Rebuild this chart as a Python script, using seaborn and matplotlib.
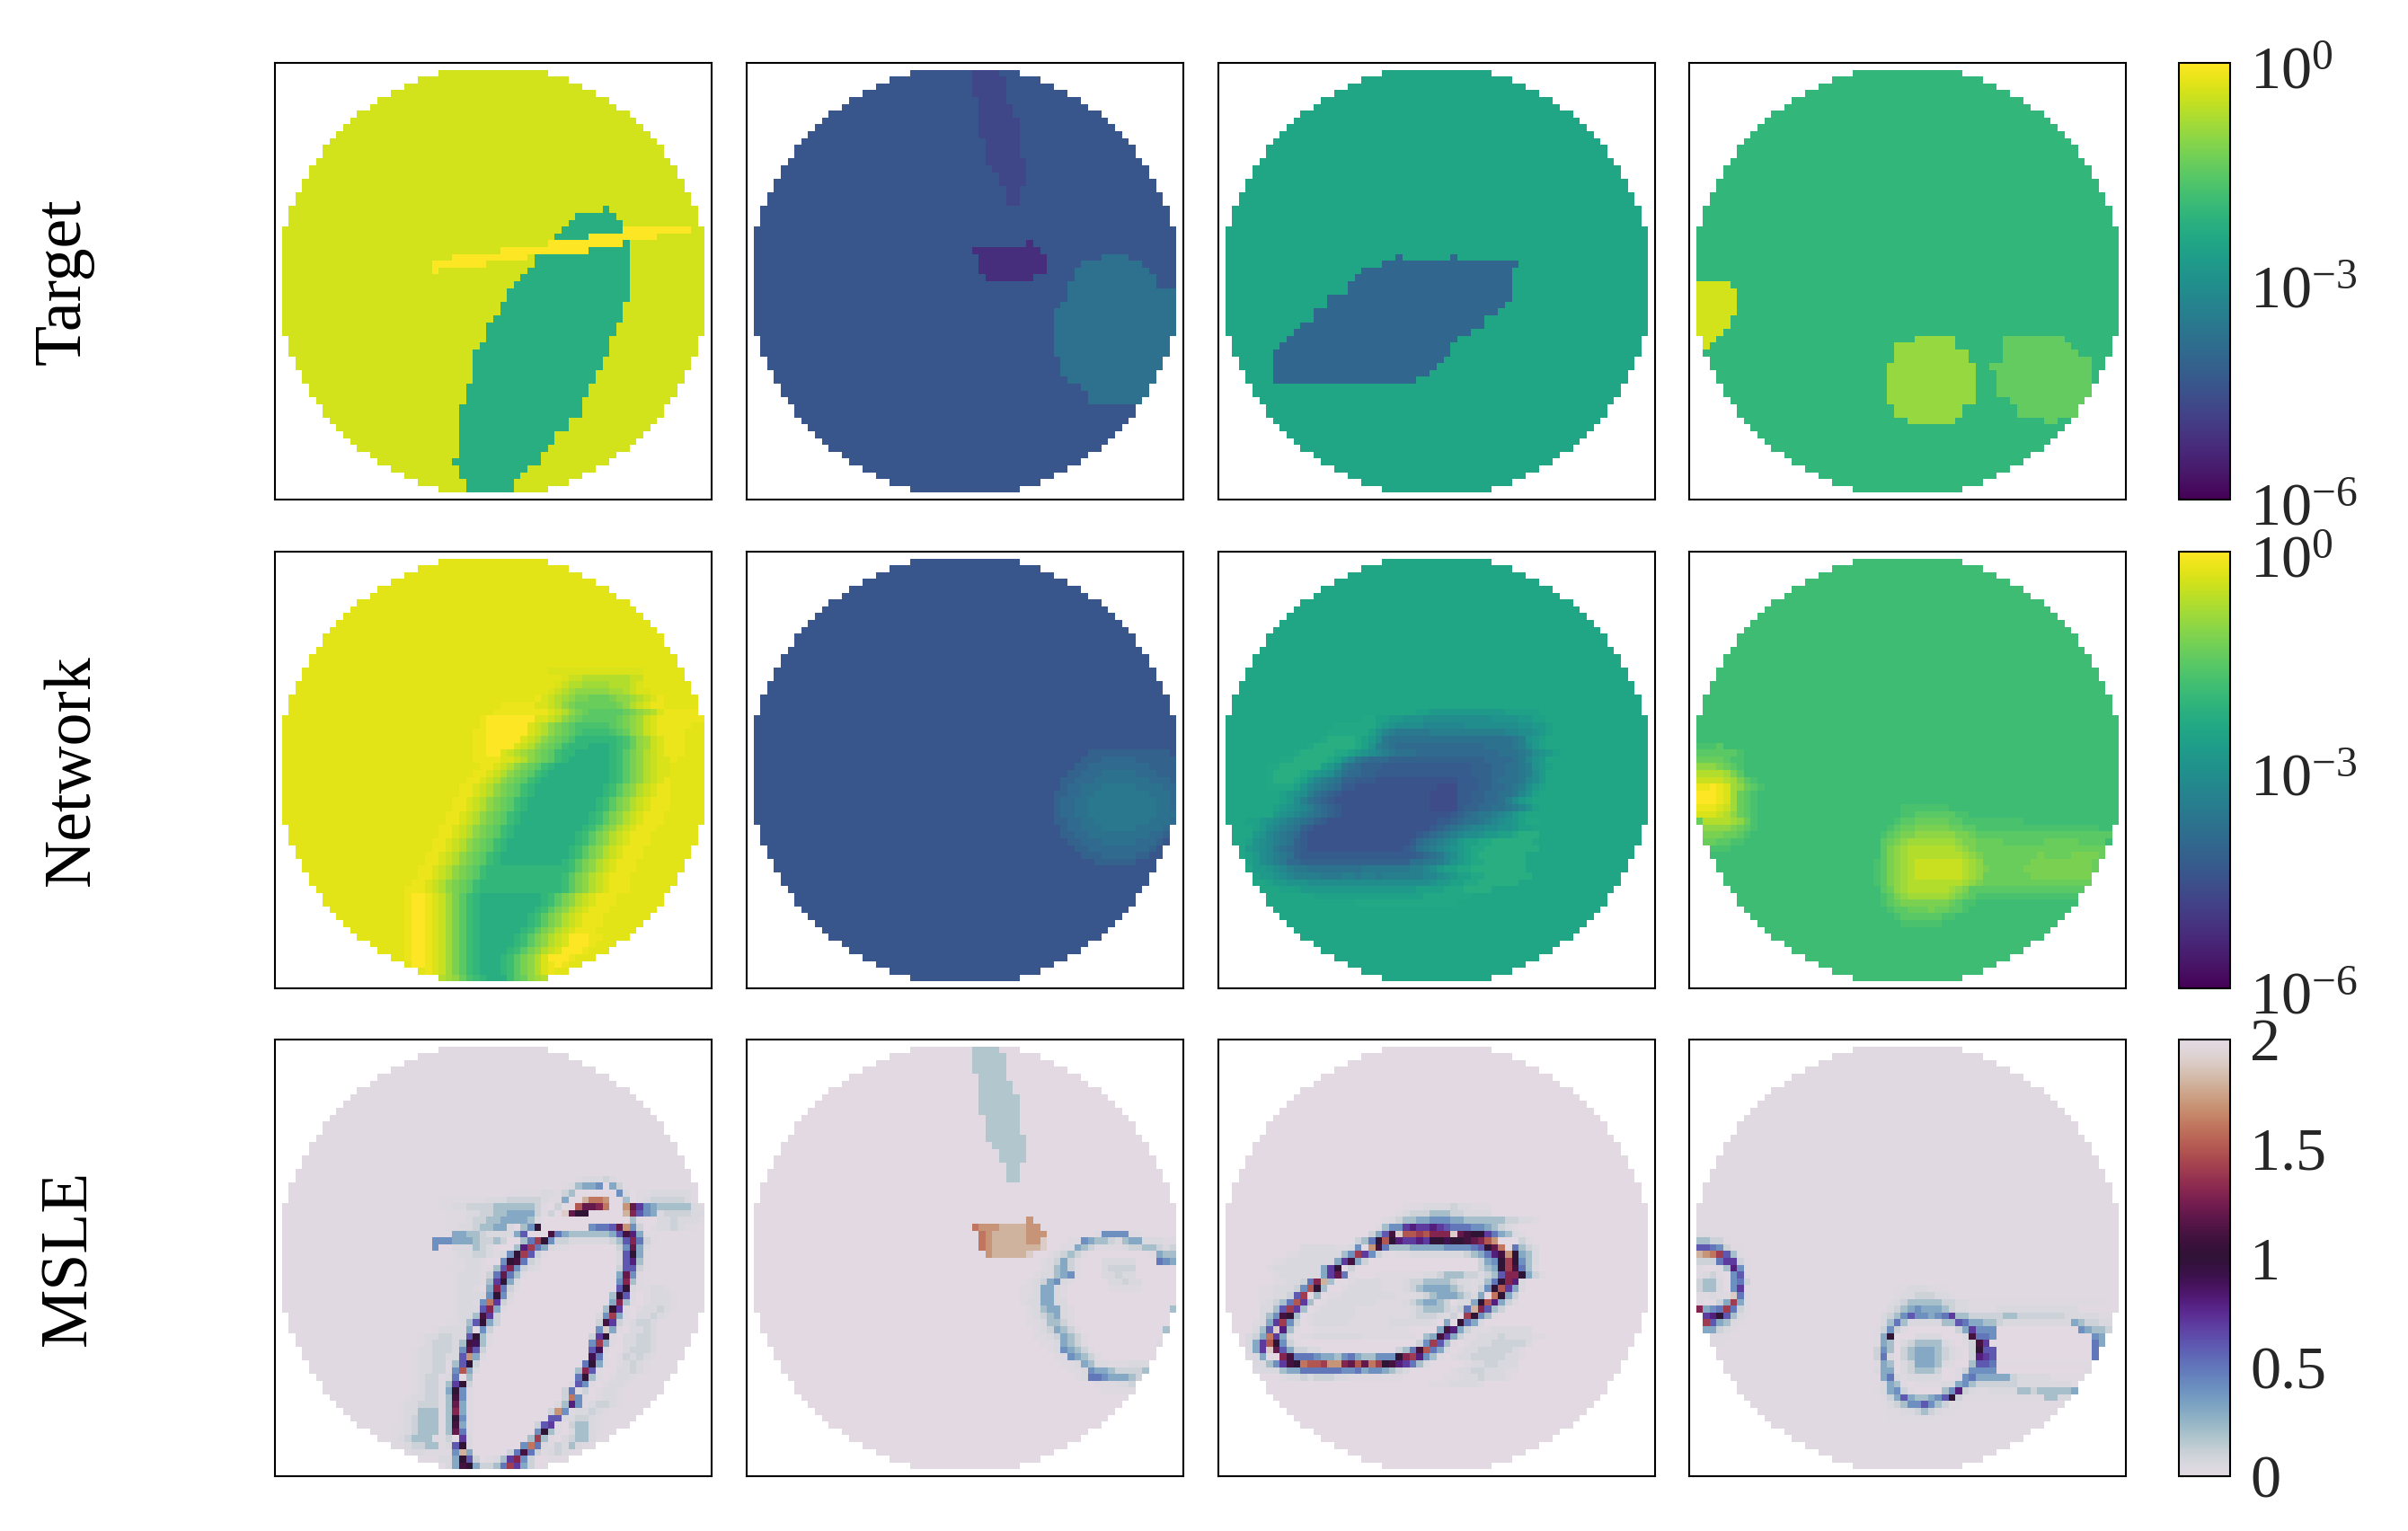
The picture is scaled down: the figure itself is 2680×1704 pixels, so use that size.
import numpy as np
import matplotlib
matplotlib.use("Agg")
import matplotlib.pyplot as plt
from matplotlib.colors import LogNorm
from matplotlib.transforms import ScaledTranslation
import seaborn as sns

ROW_LABELS = ["Target", "Network", "MSLE"]
LOG_TICKS = [1e-6, 1e-3, 1.0]
LOG_TICK_LABELS = [r"$\mathdefault{10^{-6}}$", r"$\mathdefault{10^{-3}}$", r"$\mathdefault{10^{0}}$"]
MSLE_TICKS = [0, 0.5, 1, 1.5, 2]
MSLE_TICK_LABELS = ["0", "0.5", "1", "1.5", "2"]

# first pixel of the disc in rows 1..62 of the 64x64 grid
DISC_START = [24, 21, 19, 17, 15, 14, 12, 11, 10, 9, 8, 7, 7, 6, 5, 5, 4, 4, 3, 3, 2, 2, 2,
              1, 1, 1, 1, 1, 1, 1, 1, 1, 1, 1, 1, 1, 1, 1, 1,
              2, 2, 2, 3, 3, 4, 4, 5, 5, 6, 7, 7, 8, 9, 10, 11, 12, 14, 15, 17, 19, 21, 24]

# Target values, as log10. spans are (row, first col, last col)
T_A_BASE, T_A_GREEN_V, T_A_YELLOW_V = -0.42, -2.23, 0.0
T_A_GREEN = [(21, 48, 48), (22, 44, 49), (23, 43, 50), (24, 42, 50), (25, 41, 45), (26, 51, 51), (27, 46, 51),
             (28, 38, 51), (29, 38, 51), (30, 37, 51), (31, 36, 51), (32, 35, 51), (33, 34, 51), (34, 34, 51),
             (35, 33, 50), (36, 33, 50), (37, 32, 50), (38, 31, 49), (39, 31, 49), (40, 31, 48), (41, 30, 48),
             (42, 29, 48), (43, 29, 47), (44, 29, 47), (45, 29, 46), (46, 29, 46), (47, 28, 45), (48, 28, 45),
             (49, 28, 44), (50, 27, 44), (51, 27, 44), (52, 27, 42), (53, 27, 42), (54, 27, 40), (55, 27, 40),
             (56, 27, 39), (57, 27, 38), (58, 26, 38), (59, 27, 36), (60, 27, 35), (61, 28, 34), (62, 28, 34)]
T_A_YELLOW = [(24, 51, 60), (25, 46, 55), (26, 40, 50), (27, 33, 45), (28, 26, 36), (29, 23, 30), (30, 23, 23)]

T_B_BASE, T_B_STREAK_V, T_B_BLOB_V, T_B_CIRCLE_V = -4.4, -4.72, -5.22, -3.78
T_B_STREAK = [(1, 33, 36), (2, 33, 37), (3, 33, 37), (4, 33, 37), (5, 34, 37), (6, 34, 38), (7, 34, 38),
              (8, 34, 39), (9, 34, 39), (10, 34, 39), (11, 35, 39), (12, 35, 39), (13, 35, 39), (14, 35, 40),
              (15, 36, 40), (16, 37, 40), (17, 37, 40), (18, 38, 39), (19, 38, 39), (20, 38, 39)]
T_B_BLOB = [(26, 41, 41), (27, 33, 42), (28, 34, 43), (29, 34, 43), (30, 34, 43), (31, 35, 41)]
T_B_CIRCLE = [(28, 52, 55), (29, 49, 57), (30, 48, 58), (31, 48, 59), (32, 47, 59), (33, 47, 62), (34, 47, 62),
              (35, 46, 62), (36, 45, 62), (37, 45, 62), (38, 45, 62), (39, 45, 62), (40, 45, 61), (41, 45, 61),
              (42, 45, 61), (43, 46, 60), (44, 46, 60), (45, 46, 59), (46, 47, 59), (47, 49, 58), (48, 50, 58),
              (49, 50, 57)]

T_C_BASE, T_C_DARK_V = -2.46, -4.02
T_C_DARK = [(28, 26, 26), (28, 34, 34), (29, 24, 43), (30, 21, 42), (31, 20, 42), (32, 19, 42), (33, 19, 42),
            (34, 16, 42), (35, 16, 41), (36, 14, 40), (37, 14, 38), (38, 12, 38), (39, 11, 36), (40, 10, 34),
            (41, 9, 33), (42, 8, 33), (43, 8, 32), (44, 8, 31), (45, 8, 30), (46, 8, 28)]

T_D_BASE, T_D_YELLOW_V, T_D_LIME_V, T_D_LIGHT_V = -2.04, -0.42, -0.96, -1.44
T_D_YELLOW = [(32, 1, 5), (33, 1, 6), (34, 1, 6), (35, 1, 6), (36, 1, 6), (37, 1, 5), (38, 1, 5), (39, 1, 4),
              (40, 2, 3), (41, 2, 2)]
T_D_LIME = [(40, 33, 38), (41, 30, 38), (42, 30, 40), (43, 30, 40), (44, 29, 41), (45, 29, 41), (46, 29, 41),
            (47, 29, 41), (48, 29, 41), (49, 29, 41), (50, 30, 39), (51, 30, 39), (52, 32, 38)]
T_D_LIGHT = [(40, 46, 54), (41, 46, 55), (42, 46, 56), (43, 46, 58), (44, 44, 58), (45, 45, 58), (46, 45, 58),
             (47, 45, 58), (48, 45, 58), (49, 47, 57), (50, 48, 56), (51, 48, 56), (52, 52, 53)]

# Network values: (row, first col, levels). viridis position of a level is index/35
N_KEYS = "0123456789abcdefghijklmnopqrstuvwxyz"
N_A_BASE, N_B_BASE, N_C_BASE, N_D_BASE = -0.27, -4.4, -2.46, -1.86
N_A = [
    (17, 40, "xxxxxxxxxxxxxx"), (18, 42, "xwwvvvvvvvww"), (19, 41, "xwvvuuuuvvvwx"), (20, 40, "xwvutttttuuvwxx"),
    (21, 38, "yxwvutssrrrsttuvwxy"), (22, 33, "yyyyyxxwvtsrrrrrrstvwxyy"),
    (23, 32, "yyyyyyyyxwvtsrqqqqqrstuvxyyyyyy"), (24, 30, "yzzzzzzzxxwvtsrqqqqqrstuwxyyyyyyy"),
    (25, 30, "yzzzzzzxwvtsrqpppppqrstuwxyyyyy"), (26, 29, "yyzzzzzzxwvtsrqpoooopqrtuwxyyyy"),
    (27, 29, "yyzzzzzxwvtsrqpnnnnnnoprtuwxyyy"), (28, 29, "yyzzzzxwvtsrqonnnmmmnoprtuwxyyy"),
    (29, 29, "yyzzxwvutsrqonnmmmmmnoqstvwxyyy"), (30, 29, "yyyyxxwvtsrqonmmmmmmnoqstvwxxy"),
    (31, 30, "yyxwvtsrqonmmmmmmmmnoqstvwxx"), (32, 29, "yyxwvtsrqonmmmmmmmmmnoqstvwxx"),
    (33, 28, "yyxwvtsrqonmmmmmmmmmmnoqstvwxy"), (34, 27, "yyxwvtsrqonmmmmmmmmmmnoqstvwxyy"),
    (35, 27, "yyxwvtsrqonmmmmmmmmmmnoqstvwxyy"), (36, 26, "yyxwvtsrqonmmmmmmmmmmnoqstvwxyyy"),
    (37, 26, "yyxwvtsrqonmmmmmmmmmmnoqstvwxyyy"), (38, 25, "yyxwvtsrqonmmmmmmmmmmnoqstvwxyyy"),
    (39, 25, "yyxwvtsrqonmmmmmmmmmmnoqstvwxyyy"), (40, 24, "yyxwvtsrqonmmmmmmmmmmnoqstvwxyyy"),
    (41, 24, "yyxwvtsrqonmmmmmmmmmnoqstvwxyyy"), (42, 23, "yyxwvtsrqonmmmmmmmmmmnoqstvwxyyy"),
    (43, 23, "yyxwvtsrqonmmmmmmmmmnoqstvwxyyy"), (44, 22, "yyxwvtsrqonmmmmmmmmmmnoqstvwxyyy"),
    (45, 22, "yyxwvtsrqonmmmmmmmmmnoqstvwxyyy"), (46, 21, "yyxwvtsrqonnnnnnnnnnnnoqstvwxyyy"),
    (47, 21, "yyxwvtsrqonnnnnnnnnnnoqstvwxyyy"), (48, 20, "yyxwvtsrqonnnnnnnnnnnnoqstvwxyyy"),
    (49, 19, "yyyxwvtsrqonnnnnnnnnnnnoqstvwxyyy"),
    (50, 19, "yzzyxwusqon" + "mmmmmmmmm" + "noqstvwxyyy"), (51, 19, "yzzyxwusqon" + "mmmmmmmmm" + "noqstvwxyyy"),
    (52, 19, "yzzyxwusqon" + "mmmmmmmm" + "noqstvwxyyy"), (53, 19, "yzzyxwusqon" + "mmmmmmm" + "noqstvwxyyy"),
    (54, 19, "yzzyxwusqon" + "mmmmmmm" + "noqstvwxyyy"), (55, 19, "yzzyxwusqon" + "mmmmmm" + "noqstvwxyyy"),
    (56, 19, "yzzyxwusqon" + "mmmmm" + "noqstvwxzzzyy"), (57, 19, "yzzyxwusqon" + "mmmmm" + "noqstvwxzzzy"),
    (58, 19, "yzzyxwusqon" + "mmmm" + "noqstvwxzzzy"), (59, 19, "yzzyxwusqon" + "mmm" + "noqstvxzzzy"),
    (60, 20, "zzyxwusqon" + "mmm" + "noqstvxyzy"), (61, 22, "yxwusqonmmmnoqstvxy"), (62, 24, "vutrponmmmoqrtuv"),
]
N_B = [
    (29, 50, "bbbbbbbbbbbb"), (30, 49, "bbbcccccbbbbbb"), (31, 48, "bbcccccccccbbbb"), (32, 47, "bbcccdddddcccbbb"),
    (33, 46, "bbcccddddddddcccbb"), (34, 46, "bccdddeeeeeddddccb"), (35, 45, "bbccddeeeeeeeedddccb"),
    (36, 45, "bccddeeeeeeeeeeddccb"), (37, 45, "bccddeeeeeeeeeeddccb"), (38, 45, "bccddeeeeeeeeeedddcb"),
    (39, 45, "bbccddeeeeeeeedddccb"), (40, 46, "bccdddeeeeeddddcc"), (41, 46, "bbccdddddddddccb"),
    (42, 47, "bbcccdddddcccb"), (43, 48, "bbcccccccccb"), (44, 49, "bbbcccccbb"), (45, 51, "bbbbbb"),
]
N_C = [
    (23, 29, "kkjjjjjjjjjjjkkkkk"), (24, 21, "llkkjjiiihhhhhhhhhhiiiijjkk"),
    (25, 17, "llllllkjihhhhgggggghhhhhhhhiijjk"), (26, 16, "llllllkigfeeeeefffffffffffgghhijk"),
    (27, 15, "lmmmmlkjhe" + "dddddddddddddddddd" + "efijk"),
    (28, 13, "lmmmmmmlkifed" + "ccccccccccccc" + "ddddefhjk"),
    (29, 11, "lmmmmmllkjihgfedddccccccccccccdddefhijk"),
    (30, 9, "llmmmmmlkigedccc" + "bbbbbbbbbbbbbb" + "ccccdegij"),
    (31, 7, "llmmmmmmkjhedcbbb" + "aaaaaaaaaaaaa" + "bbbccddefijk"),
    (32, 7, "lmmmmlkjihfdccbb" + "aaaaaaaaaaaaaa" + "bbbccddefhj"),
    (33, 7, "lmmmlkigfedbbaaa" + "999999999999" + "aaabbcdddeghj"),
    (34, 7, "llllkigfedcaa" + "999999999999" + "888aaabbccdefhjk"),
    (35, 9, "kjihfdcba" + "9999999999999" + "8888aabbccddegik"),
    (36, 9, "kjhfdcba" + "99999999999999" + "8888aabbccdfhjk"),
    (37, 8, "kjihgfdcba" + "9999999999999" + "8888abbccddefgik"),
    (38, 8, "jihgfedcba" + "9999999999999999" + "abcdeefghjk"),
    (39, 4, "kkjihgfedcba9999999999999999aabcddefghijkll"),
    (40, 5, "kjhgfedba99999999999999999abcdefgghhiijkk"),
    (41, 5, "jigfedca9999999999999999abcdefghhijjkklmmm"),
    (42, 4, "kihgfedba999999999999999acdefghjkkllmmmmmml"),
    (43, 4, "jihgedcba99999999999999abdefghijkllmmmmmmmm"),
    (44, 4, "kjhgfedbaaaaaaaaaaaaaaaaabcdeghjklmmmmmmm"),
    (45, 4, "kjhgfeccbbbbbbbbbbbbbbbbddeefgijkllmmmmmm"),
    (46, 5, "jjihgfeeddddddddeeeeeeeffghjkkllmmmmmmmm"),
    (47, 5, "kjjihgffffeeeffeffeffffffgghijkkllmmmmmmm"),
    (48, 7, "kjjiiihhhhhhhhhhhhhhhhhhijjkkllmmmmmm"),
    (49, 9, "kkkjjjjjjjjjjjjjjjjjkkkklllmmmm"), (50, 14, "kkkkkkkkkkkkkkkklllllll"), (51, 20, "lllllllllllllll"),
]
N_D = [
    (28, 1, "pppqoo"), (29, 1, "qqqqqqp"), (30, 1, "rrrrqpp"), (31, 1, "tttsrqp"), (32, 1, "vvvvusq"),
    (33, 1, "wwwwvusqp"), (34, 1, "yyzyxutrqp"), (35, 1, "zzzyxurqp"), (36, 1, "zzzyxurqp"), (37, 1, "yyyxwurqp"),
    (38, 1, "xxxwvtrqp"), (39, 1, "rvvvvutrp"), (40, 2, "ttttsrqp"), (41, 2, "sssrrqp"), (42, 2, "rrqqpp"),
    (43, 3, "ppp"),
    (37, 31, "ppppppp"), (38, 31, "ppqqqqqqpp"), (39, 30, "pqqrrrrrqqpp" + "ppppppp"),
    (40, 29, "pqrrsssssrrqqpp" + "pppppppppppppppp"), (41, 28, "pqrssttttttssrqqqqqqqqqqqqqqqqqqqqqpp"),
    (42, 28, "qrstuuuuuuutssrrrrqqqqqqrrrrrqqqq"), (43, 28, "qstuvvvvvvvutsrrrrrrrrrrrrrrrrrrrrqq"),
    (44, 28, "qstuvvvvvvvvutsrrrrrrrrsrrrrssssrrrq"), (45, 27, "pqstuvwwwwwwwvutrrrrrrrsssssssssrrrq"),
    (46, 27, "pqstuvwwwwwwwvutsrrrrrssssssssssrrq"), (47, 27, "pqstuvwwwwwwwvutrrrrrrrsssssssssrrqq"),
    (48, 27, "pqstuvvvvvvvvutsrrrrrrrrrrrrrrrrrrqq"), (49, 28, "qrtuvvvvvvutsqqqqqqqqqqqqqqqqqqqqq"),
    (50, 28, "pqstuuuuuutsrqppppppppppppppppp"), (51, 28, "pqrsssssssrqpp"), (52, 29, "pqqrrrsrrqqp"),
    (53, 30, "pqqqqqqpp"), (54, 31, "pppppp"),
]

# MSLE values: 0..K is 0.0..2.0 in steps of 0.1, y and z are the faint levels
M_KEYS = "0123456789ABCDEFGHIJK"
M_FAINT = {"y": 0.03, "z": 0.05}
M_A_BASE, M_B_BASE, M_C_BASE, M_D_BASE = 0.012, 0.0, 0.0, 0.012
M_B_STREAK_V = 0.17
M_A = [
    (20, 44, "yzzz1z"), (21, 42, "yz2334031"), (22, 34, "yyyyyzzy12000000" + "4z0yyzzzzzz"),
    (23, 24, "yyyyyyyzzz11111zyy" + "300IGGH0" + "0" + "2" + "0yz11111z"),
    (24, 24, "yyzz1111222222" + "1y010" + "0FCCDG00H" + "C74322222zy"),
    (25, 25, "yyyzz11223333" + "1y10JCAA00000" + "ID643z1111zz"),
    (26, 25, "yyyz112233332z" + "0" * 13 + "2y00zz1zzzy"),
    (27, 25, "yyzz12233z0" + "24A0000000" + "455" + "6CH410yzz1zyy"),
    (28, 26, "33221zzzz36000B53222222" + "36B83y"),
    (29, 23, "4443332112100" + "25EA411zzzzzz126D51y"),
    (30, 23, "400zzz21z000" + "28E53zyy0000000" + "14C3z"),
    (31, 26, "yzz11zyz4AE61y" + "0" * 10 + "z6A3y"),
    (32, 26, "yyzzy004AB51z" + "0" * 11 + "z682y"),
    (33, 25, "yyyzzyy26D41zy" + "0" * 11 + "1661y"),
    (34, 26, "yzzzy15C52y" + "0" * 13 + "3C4y"),
    (35, 26, "yzzzy27A3z" + "0" * 14 + "4D2y"),
    (36, 26, "yzzy03D51y" + "0" * 14 + "6Azyyzzy"),
    (37, 26, "yzzzz4A4z" + "0" * 14 + "2A6y0yzzzy"),
    (38, 26, "yzzy4G71y" + "0" * 14 + "3D2y0yzzzy"),
    (39, 26, "yzzz6D3y" + "0" * 14 + "2A7y0yzz1zy"),
    (40, 26, "yzz2B71" + "0" * 14 + "z4E3y0zz1zy"),
    (41, 25, "yyz26A31" + "0" * 14 + "1B71yz11z"),
    (42, 23, "yzzzz3041" + "0" * 15 + "4J3y0zz1z"),
    (43, 21, "yzz11zz6A2y" + "0" * 14 + "17Ay0zz11z"),
    (44, 21, "yz111z2B92y" + "0" * 14 + "4E3y0zz11z"),
    (45, 20, "yzz111z4C61" + "0" * 15 + "69z00z111z"),
    (46, 20, "yzz11zz6H3y" + "0" * 15 + "95y0y1z1zy"),
    (47, 20, "yzz11y26A1" + "0" * 15 + "5A3y0yz1zy"),
    (48, 20, "yzz11y4F3z" + "0" * 14 + "2D6y00zz1zy"),
    (49, 20, "yz11yz502" + "0" * 15 + "5A2y0yzzy"),
    (50, 20, "yz11y27A1" + "0" * 14 + "z64y0yzzy"),
    (51, 20, "yz11y3A4y" + "0" * 13 + "15y10yzzy"),
    (52, 19, "yzz11y2B4y" + "0" * 13 + "1G4y0yzzy"),
    (53, 18, "yzz111y2C3y" + "0" * 12 + "z284yz11zy"),
    (54, 18, "yzz222y2D3y" + "0" * 11 + "1H4yzz1zy"),
    (55, 18, "yz1222y2A4y" + "0" * 11 + "66zz11zy"),
    (56, 17, "yyz1222y2B3y" + "0" * 9 + "167y0122zy"),
    (57, 17, "yyz1222y2C5y" + "0" * 9 + "4A2y0z22zy"),
    (58, 17, "yz1222yy107z" + "0" * 8 + "2E2y0z122z"),
    (59, 17, "yyz1122yz6Az" + "0" * 7 + "4G5zy1z2zy"),
    (60, 19, "yzzyyyy4I3" + "0" * 5 + "15B51yz1zy"),
    (61, 24, "zz3A610yz27D4100y"),
    (62, 24, "0z3BA31125E7310"),
]
M_B = [
    (26, 41, "H"), (27, 33, "GHHHIIIIHH"), (28, 34, "GHIIIIIHHH"), (29, 34, "GHIIIIIHHJ"), (30, 34, "GHIIIIIIIJ"),
    (31, 35, "HIIIIIJ"),
    (28, 51, "y4444yy"), (29, 47, "yy43221z233zzzyy"), (30, 46, "yy321yyyyz11221z1"),
    (31, 44, "yz121y" + "0" * 9 + "y322"), (32, 43, "yz131y000zzzzz000543"), (33, 43, "yz231y000z1111"),
    (34, 42, "yzz234y000zz1zz"), (35, 41, "yz134zy00000zz1zz"), (36, 40, "yyz33zy000000yyyyy"),
    (37, 40, "yyz33zy"), (38, 40, "yzz33zz"), (39, 41, "yz233zy" + "0" * 14 + "2"), (40, 41, "yz123zy"),
    (41, 41, "yyz221y"), (42, 42, "yz1321y" + "0" * 12 + "2"), (43, 42, "yyz1321y"),
    (44, 43, "yyz321y" + "0" * 10 + "y"), (45, 44, "yz4321y"), (46, 45, "yy4321y"), (47, 46, "yyz32zzyyyzzz"),
    (48, 47, "yyz43321111" + "2"), (49, 48, "yz55433321"), (50, 51, "yyyzz1"), (51, 52, "yyyyy"),
]
M_C = [
    (24, 27, "yyyzzzz1zzyyy"), (25, 26, "yz11122211zzzz"), (26, 24, "yz122334443322222211zzy"),
    (27, 23, "y244787787655544321zy"), (28, 22, "136BJFFEFDDDJCBAA7532zy"),
    (29, 20, "125AFA87787AA9AABCDFH0001y"),
    (30, 12, "zzzzzyyz40HB5222333334444" + "56ACG0521z"),
    (31, 10, "yyzzzzzz24E741y0yyzzzzzzzz1235" + "8BHA32z"),
    (32, 8, "yyzzzzzzz37B31" + "0" * 16 + "134AEA42z"),
    (33, 7, "yzzzzzzz37A01000" + "0" * 15 + "123AEB52y"),
    (34, 8, "yzzzzzz37C5y000yyyyyyyzz122211z126DDA31y"),
    (35, 8, "yyzz15DI200yzzzzyyyz1122221zzyz25AD8z"),
    (36, 6, "yyzzz14FA200yzzzzzyyyz12333321zy14AF73z"),
    (37, 6, "yyzz16E020yyzzzzzzzzyyyz1233321z30GA31"),
    (38, 6, "yz125F720yzzzzzzzyyyyz1233210zz3AF831y"),
    (39, 6, "zz26E720yzzzzzyyyyyyyyz12221z15ID621"),
    (40, 6, "z24BA20yzzzzzzyyyyyyyyz111zy10EA42y"),
    (41, 5, "yz37E410yzzzzzyyyyyyzzzzzzy030A53z"),
    (42, 5, "z26J82y00yyyyyyyyyyyyyy00003B831yyyzzzzzz"),
    (43, 4, "z13G73z0yyzzzzzzzyyyyyyyy023B731yyzzz1zzzzyy"),
    (44, 4, "z37FA41y" + "0" * 17 + "14E62y0yzzz11111z"),
    (45, 4, "z37JC6311zz" + "0" * 11 + "125BF53z0yzz11111zy"),
    (46, 4, "yz300DB555433245322444ADE842y0yzz11111zzy"),
    (47, 5, "zz247BAGFFEHHDCFCGEAB8752z00000yzz11zzz"),
    (48, 5, "yzzz233555555445344321z000000yzz11zzzyy"),
    (49, 9, "yzz1z111zzyyyyyyyy000000yyyzz1zzzy"),
    (50, 31, "yyyzzzzy"),
]
M_D = [
    (28, 1, "yy"), (29, 1, "2211y"), (30, 1, "66541yy"), (31, 1, "IHGE62y"), (32, 1, "1115771y"), (33, 1, "y00y284y"),
    (34, 1, "yz1y046y"), (35, 1, "122z0451"), (36, 1, "122z047y"), (37, 1, "yyzyyJ5y"), (38, 1, "y0013E3y"),
    (39, 1, "D345E51y"), (40, 2, "78A62zy"), (41, 2, "E632zy"), (42, 2, "331zy"), (43, 3, "yyy"), (44, 3, "yy"),
    (36, 30, "yyzzzyyy"), (37, 30, "yzz111zzy"), (38, 29, "yz12222211zzyy" + "y" * 18),
    (39, 29, "z123433321zzyyyy" + "z" * 12), (40, 28, "z124644345722" + "11111" + "22" + "1111111" + "zzzzzyy"),
    (41, 28, "z252zzzzz" + "22" + "65" + "3322" + "1" + "z" * 10 + "3211zz"),
    (42, 27, "y141y" + "0" * 7 + "137444" + "0" * 12 + "43221"),
    (43, 27, "y3A000zzzz000zB554" + "0" * 14 + "43"),
    (44, 27, "y320z12222zy0y1B7" + "0" * 15 + "53"),
    (45, 27, "142012333" + "21zy01A66" + "0" * 14 + "5"),
    (46, 27, "15z012333" + "21zy01876" + "0" * 14 + "5"),
    (47, 27, "y320z1333" + "2zy002665"),
    (48, 27, "z330z1222" + "100y14444" + "0" * 13 + "y"),
    (49, 28, "35zyzzzzz00y4533333" + "1zzzzz"),
    (50, 28, "z32y0yyyyzz34211111" + "1zzzzzzzz"),
    (51, 27, "yz341y000024" + "81zyyzzzz" + "22122222" + "3"),
    (52, 28, "y13632234" + "6A1" + "y" * 12 + "22zz"),
    (53, 29, "z12446421yy"), (54, 29, "yyzz121zyy"), (55, 29, "yyyyyyy"),
]

sns.set_theme(style="white")
plt.rcParams["font.family"] = ["Liberation Serif", "DejaVu Serif"]
plt.rcParams["mathtext.fontset"] = "custom"
plt.rcParams["mathtext.rm"] = "Liberation Serif"
plt.rcParams["mathtext.it"] = "Liberation Serif:italic"
plt.rcParams["mathtext.bf"] = "Liberation Serif:bold"
plt.rcParams["axes.unicode_minus"] = False

W, H = 2680, 1704
COL_X = [306, 831, 1356, 1880]
ROW_Y = [70, 614, 1157]
SIDE = 486
CBAR_X, CBAR_W = 2425, 57
LABEL_X = [71, 81, 78]
FONT = 49
LABEL_FONT = 53


def disc_mask():
    mask = np.ones((64, 64), dtype=bool)
    for i, start in enumerate(DISC_START):
        mask[i + 1, start:64 - start] = False
    return mask


def paint_spans(grid, spans, value):
    for row, first, last in spans:
        grid[row, first:last + 1] = value


def paint_rows(grid, rows, lookup):
    for row, col, text in rows:
        for i, ch in enumerate(text):
            if col + i < 64:
                grid[row, col + i] = lookup[ch]


def flat(value):
    return np.full((64, 64), float(value))


def target_panels():
    a = flat(T_A_BASE)
    paint_spans(a, T_A_GREEN, T_A_GREEN_V)
    paint_spans(a, T_A_YELLOW, T_A_YELLOW_V)
    b = flat(T_B_BASE)
    paint_spans(b, T_B_STREAK, T_B_STREAK_V)
    paint_spans(b, T_B_BLOB, T_B_BLOB_V)
    paint_spans(b, T_B_CIRCLE, T_B_CIRCLE_V)
    c = flat(T_C_BASE)
    paint_spans(c, T_C_DARK, T_C_DARK_V)
    d = flat(T_D_BASE)
    paint_spans(d, T_D_YELLOW, T_D_YELLOW_V)
    paint_spans(d, T_D_LIME, T_D_LIME_V)
    paint_spans(d, T_D_LIGHT, T_D_LIGHT_V)
    return [10.0 ** g for g in (a, b, c, d)]


def network_panels():
    lookup = {k: -6 + 6 * i / 35 for i, k in enumerate(N_KEYS)}
    out = []
    for base, rows in zip([N_A_BASE, N_B_BASE, N_C_BASE, N_D_BASE], [N_A, N_B, N_C, N_D]):
        g = flat(base)
        paint_rows(g, rows, lookup)
        out.append(10.0 ** g)
    return out


def msle_panels():
    lookup = {k: i * 0.1 for i, k in enumerate(M_KEYS)}
    lookup.update(M_FAINT)
    out = []
    for base, rows in zip([M_A_BASE, M_B_BASE, M_C_BASE, M_D_BASE], [M_A, M_B, M_C, M_D]):
        g = flat(base)
        if rows is M_B:
            paint_spans(g, T_B_STREAK, M_B_STREAK_V)
        paint_rows(g, rows, lookup)
        out.append(g)
    return out


def px_axes(fig, x, y, w, h):
    return fig.add_axes([x / W, 1 - (y + h) / H, w / W, h / H])


def frame(ax):
    for s in ax.spines.values():
        s.set_visible(True)
        s.set_color("black")
        s.set_linewidth(1.5)


def style_cbar(fig, cb, ticks, labels, drop=0):
    cb.set_ticks(ticks)
    cb.set_ticklabels(labels)
    cb.ax.minorticks_off()
    cb.ax.tick_params(axis="y", which="major", direction="in", length=CBAR_W * 0.72, width=0.8,
                      color="#808080", pad=16, labelsize=FONT, right=True, labelright=True)
    cb.outline.set_visible(True)
    cb.outline.set_edgecolor("black")
    cb.outline.set_linewidth(1.5)
    if drop:
        # the exponents push the mantissa up, bring it back onto the tick
        shift = ScaledTranslation(0, -drop / 100, fig.dpi_scale_trans)
        for label in cb.ax.get_yticklabels():
            label.set_transform(label.get_transform() + shift)


def main():
    mask = disc_mask()
    fig = plt.figure(figsize=(W / 100, H / 100), dpi=100)
    rows = [target_panels(), network_panels(), msle_panels()]
    for r, panels in enumerate(rows):
        cax = px_axes(fig, CBAR_X, ROW_Y[r], CBAR_W, SIDE)
        for c, data in enumerate(panels):
            ax = px_axes(fig, COL_X[c], ROW_Y[r], SIDE, SIDE)
            if r < 2:
                sns.heatmap(data, mask=mask, cmap="viridis", norm=LogNorm(1e-6, 1.0), ax=ax,
                            cbar=c == 0, cbar_ax=cax if c == 0 else None,
                            xticklabels=False, yticklabels=False)
            else:
                sns.heatmap(data, mask=mask, cmap="twilight", vmin=0, vmax=2, ax=ax,
                            cbar=c == 0, cbar_ax=cax if c == 0 else None,
                            xticklabels=False, yticklabels=False)
            frame(ax)
            if c == 0:
                cb = ax.collections[0].colorbar
        if r < 2:
            style_cbar(fig, cb, LOG_TICKS, LOG_TICK_LABELS, drop=6)
        else:
            style_cbar(fig, cb, MSLE_TICKS, MSLE_TICK_LABELS)
        fig.text(LABEL_X[r] / W, 1 - (ROW_Y[r] + SIDE / 2) / H, ROW_LABELS[r], rotation=90,
                 ha="center", va="center", fontsize=LABEL_FONT, color="black")
    fig.savefig("out.png", dpi=100, facecolor="white")
    plt.close(fig)


if __name__ == "__main__":
    main()
